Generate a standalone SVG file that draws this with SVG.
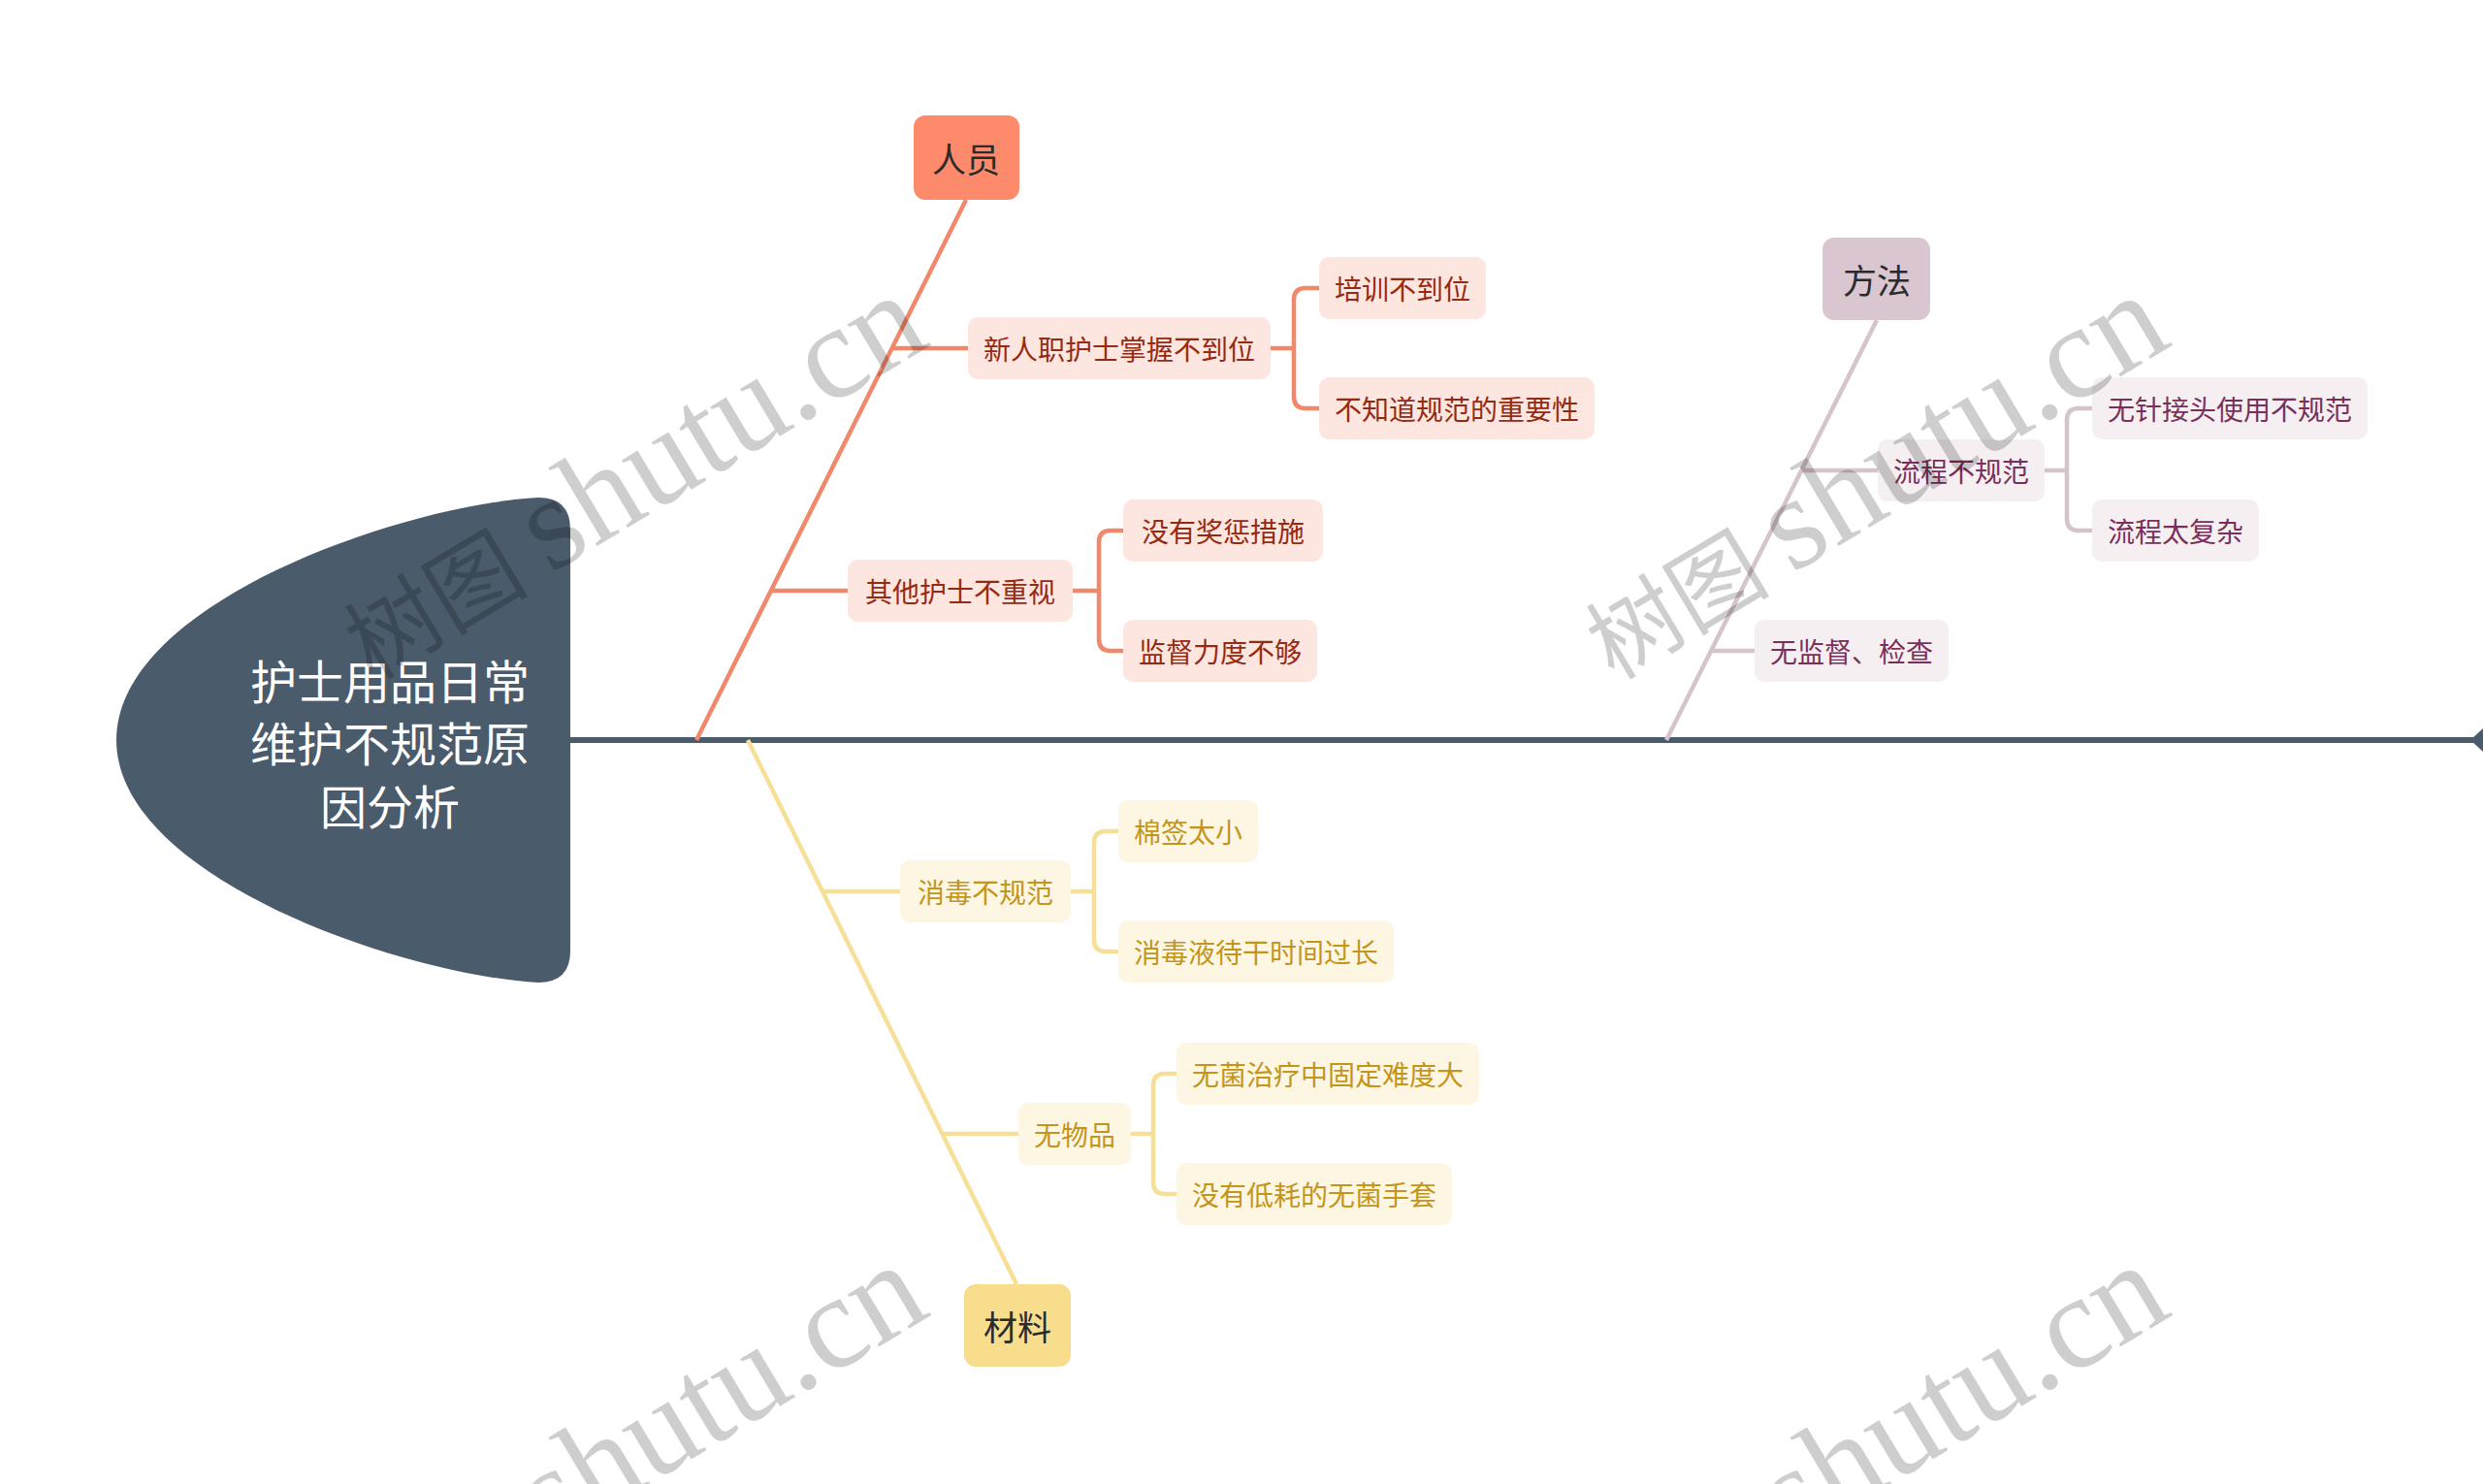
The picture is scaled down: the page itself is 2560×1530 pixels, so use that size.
<svg xmlns="http://www.w3.org/2000/svg" width="2560" height="1530" viewBox="0 0 2560 1530">
<style>
text{font-family:"Noto Sans CJK SC","Noto Sans",sans-serif;text-anchor:middle;dominant-baseline:central}
.title{fill:#ffffff;font-size:48px}
.cat{fill:#2b2b2b;font-size:35px}
.sub{font-size:28px}
.p-box{fill:#fde6df}.p-txt{fill:#952a13}
.m-box{fill:#f6eff2}.m-txt{fill:#7a2f5b}
.s-box{fill:#fdf6e2}.s-txt{fill:#c3951b}
.pl{stroke:#f0896b;fill:none;stroke-width:4.5}
.ml{stroke:#d6c4cc;fill:none;stroke-width:4.5}
.sl{stroke:#f6df97;fill:none;stroke-width:4.5}
.wm{font-family:"Liberation Serif","Noto Sans CJK SC",serif;fill:#000;opacity:0.19;text-anchor:start;dominant-baseline:auto}
</style>
<rect width="2560" height="1530" fill="#ffffff"/>

<g id="connectors">
  <line x1="588" y1="763" x2="2552" y2="763" stroke="#4a5b6c" stroke-width="6"/>
  <polygon points="2547,763 2560,751 2573,763 2560,775" fill="#4a5b6c"/>
  <!-- 人员 -->
  <line class="pl" x1="996" y1="206" x2="718" y2="763" stroke-width="6"/>
  <line class="pl" x1="920" y1="359" x2="998" y2="359"/>
  <line class="pl" x1="795" y1="609" x2="874" y2="609"/>
  <path class="pl" d="M1310,359 H1334 M1360,297 H1346 Q1334,297 1334,309 V409 Q1334,421 1346,421 H1360"/>
  <path class="pl" d="M1106,609 H1133 M1158,547 H1145 Q1133,547 1133,559 V659 Q1133,671 1145,671 H1158"/>
  <!-- 方法 -->
  <line class="ml" x1="1935" y1="330" x2="1718" y2="763" stroke-width="6"/>
  <line class="ml" x1="1857" y1="485" x2="1936" y2="485"/>
  <line class="ml" x1="1764" y1="671" x2="1809" y2="671"/>
  <path class="ml" d="M2108,485 H2131 M2157,421 H2143 Q2131,421 2131,433 V535 Q2131,547 2143,547 H2157"/>
  <!-- 材料 -->
  <line class="sl" x1="771" y1="763" x2="1048" y2="1324" stroke-width="6"/>
  <line class="sl" x1="848" y1="919" x2="928" y2="919"/>
  <line class="sl" x1="971" y1="1169" x2="1050" y2="1169"/>
  <path class="sl" d="M1104,919 H1128 M1153,857 H1140 Q1128,857 1128,869 V969 Q1128,981 1140,981 H1153"/>
  <path class="sl" d="M1166,1169 H1189 M1213,1107 H1201 Q1189,1107 1189,1119 V1219 Q1189,1231 1201,1231 H1213"/>
</g>

<g id="root">
  <path d="M555,513 C420,520 120,620 120,763 C120,906 420,1006 555,1013 Q588,1013 588,980 V546 Q588,513 555,513 Z" fill="#4a5b6c"/>
  <text class="title" x="402" y="700">护士用品日常</text>
  <text class="title" x="402" y="764">维护不规范原</text>
  <text class="title" x="402" y="829">因分析</text>
</g>

<g id="cat-renyuan">
  <rect x="942" y="119" width="109" height="87" rx="12" fill="#fd8a6b"/>
  <text class="cat" x="996" y="162">人员</text>
</g>
<g id="cat-fangfa">
  <rect x="1879" y="245" width="111" height="85" rx="12" fill="#d9c6d0"/>
  <text class="cat" x="1935" y="287">方法</text>
</g>
<g id="cat-cailiao">
  <rect x="994" y="1324" width="110" height="85" rx="12" fill="#f8dd8d"/>
  <text class="cat" x="1049" y="1366">材料</text>
</g>

<g id="n-xinruzhi">
  <rect class="p-box" x="998" y="327" width="312" height="64" rx="10"/>
  <text class="sub p-txt" x="1154" y="359">新人职护士掌握不到位</text>
</g>
<g id="n-peixun">
  <rect class="p-box" x="1360" y="265" width="172" height="64" rx="10"/>
  <text class="sub p-txt" x="1446" y="297">培训不到位</text>
</g>
<g id="n-buzhidao">
  <rect class="p-box" x="1360" y="389" width="284" height="64" rx="10"/>
  <text class="sub p-txt" x="1502" y="421">不知道规范的重要性</text>
</g>
<g id="n-qita">
  <rect class="p-box" x="874" y="577" width="232" height="64" rx="10"/>
  <text class="sub p-txt" x="990" y="609">其他护士不重视</text>
</g>
<g id="n-jiangcheng">
  <rect class="p-box" x="1158" y="515" width="206" height="64" rx="10"/>
  <text class="sub p-txt" x="1261" y="547">没有奖惩措施</text>
</g>
<g id="n-jiandu">
  <rect class="p-box" x="1158" y="639" width="200" height="64" rx="10"/>
  <text class="sub p-txt" x="1258" y="671">监督力度不够</text>
</g>

<g id="n-liucheng">
  <rect class="m-box" x="1936" y="453" width="172" height="64" rx="10"/>
  <text class="sub m-txt" x="2022" y="485">流程不规范</text>
</g>
<g id="n-wuzhen">
  <rect class="m-box" x="2157" y="389" width="284" height="64" rx="10"/>
  <text class="sub m-txt" x="2299" y="421">无针接头使用不规范</text>
</g>
<g id="n-fuza">
  <rect class="m-box" x="2157" y="515" width="172" height="64" rx="10"/>
  <text class="sub m-txt" x="2243" y="547">流程太复杂</text>
</g>
<g id="n-wujiandu">
  <rect class="m-box" x="1809" y="639" width="200" height="64" rx="10"/>
  <text class="sub m-txt" x="1909" y="671">无监督、检查</text>
</g>

<g id="n-xiaodu">
  <rect class="s-box" x="928" y="887" width="176" height="64" rx="10"/>
  <text class="sub s-txt" x="1016" y="919">消毒不规范</text>
</g>
<g id="n-mianqian">
  <rect class="s-box" x="1153" y="825" width="144" height="64" rx="10"/>
  <text class="sub s-txt" x="1225" y="857">棉签太小</text>
</g>
<g id="n-daigan">
  <rect class="s-box" x="1153" y="949" width="284" height="64" rx="10"/>
  <text class="sub s-txt" x="1295" y="981">消毒液待干时间过长</text>
</g>
<g id="n-wuwupin">
  <rect class="s-box" x="1050" y="1137" width="116" height="64" rx="10"/>
  <text class="sub s-txt" x="1108" y="1169">无物品</text>
</g>
<g id="n-gudingnan">
  <rect class="s-box" x="1213" y="1075" width="312" height="64" rx="10"/>
  <text class="sub s-txt" x="1369" y="1107">无菌治疗中固定难度大</text>
</g>
<g id="n-shoutao">
  <rect class="s-box" x="1213" y="1199" width="284" height="64" rx="10"/>
  <text class="sub s-txt" x="1355" y="1231">没有低耗的无菌手套</text>
</g>

<g id="watermarks">
  <text class="wm" transform="translate(384,702) rotate(-31)"><tspan font-size="95">树图 </tspan><tspan font-size="137">shutu.cn</tspan></text>
  <text class="wm" transform="translate(1664,702) rotate(-31)"><tspan font-size="95">树图 </tspan><tspan font-size="137">shutu.cn</tspan></text>
  <text class="wm" transform="translate(384,1702) rotate(-31)" x="214" font-size="137">shutu.cn</text>
  <text class="wm" transform="translate(1664,1702) rotate(-31)" x="214" font-size="137">shutu.cn</text>
</g>
</svg>
